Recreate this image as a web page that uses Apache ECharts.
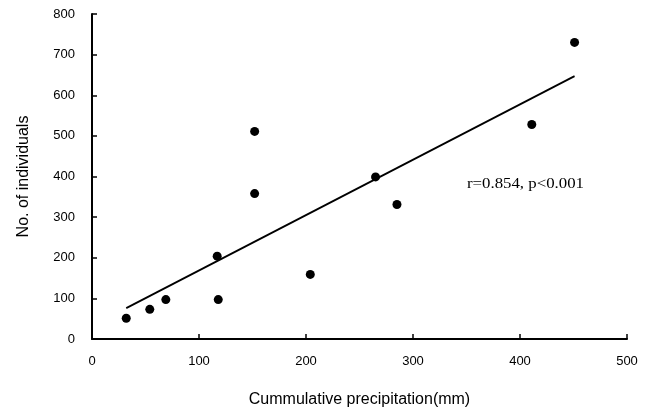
<!DOCTYPE html>
<html>
<head>
<meta charset="utf-8">
<script src="https://cdn.jsdelivr.net/npm/echarts@6/dist/echarts.min.js"></script>
<style>
  html, body { margin: 0; padding: 0; background: #fff; }
  #chart { width: 653px; height: 408px; }
</style>
</head>
<body>
<div id="chart"></div>
<script>
// observed points: cumulative precipitation (mm) vs. no. of individuals
const precip = [32, 54, 69, 118, 117, 152, 152, 204, 265, 285, 411, 451]
const individuals = [51, 73, 97, 97, 204, 511, 358, 159, 399, 331, 528, 730]
// fitted line end points
const fitX = [32, 451]
const fitY = [76, 647]
const xTicks = [0, 100, 200, 300, 400, 500]
const yTicks = [0, 100, 200, 300, 400, 500, 600, 700, 800]

const sans = 'Liberation Sans, Arial, sans-serif'
const labelFont = { fontFamily: sans, fontSize: 13, color: '#000' }
const nameFont = { fontFamily: sans, fontSize: 16, color: '#000' }

const option = {
  animation: false,
  backgroundColor: '#fff',
  grid: { left: 92, right: 26, top: 14, bottom: 69, outerBoundsMode: 'none' },
  xAxis: {
    type: 'value',
    min: xTicks[0],
    max: xTicks[xTicks.length - 1],
    interval: 100,
    name: 'Cummulative precipitation(mm)',
    nameLocation: 'middle',
    nameGap: 53,
    nameTextStyle: nameFont,
    axisLine: { lineStyle: { color: '#000', width: 2 } },
    axisTick: { inside: true, length: 5, lineStyle: { color: '#000', width: 1.5 } },
    axisLabel: Object.assign({ margin: 16 }, labelFont),
    splitLine: { show: false }
  },
  yAxis: {
    type: 'value',
    min: yTicks[0],
    max: yTicks[yTicks.length - 1],
    interval: 100,
    name: 'No. of individuals',
    nameLocation: 'middle',
    nameGap: 60,
    nameTextStyle: nameFont,
    axisLine: { lineStyle: { color: '#000', width: 2 } },
    axisTick: { inside: true, length: 5, lineStyle: { color: '#000', width: 1.5 } },
    axisLabel: Object.assign({ margin: 17 }, labelFont),
    splitLine: { show: false }
  },
  series: [
    {
      type: 'line',
      data: fitX.map((x, i) => [x, fitY[i]]),
      symbol: 'none',
      lineStyle: { color: '#000', width: 1.8 },
      z: 2
    },
    {
      type: 'scatter',
      data: precip.map((x, i) => [x, individuals[i]]),
      symbol: 'circle',
      symbolSize: 9,
      itemStyle: { color: '#000', opacity: 1 },
      z: 3
    }
  ],
  graphic: [
    {
      type: 'text',
      x: 467,
      y: 184,
      scaleX: 1.2,
      style: {
        text: 'r=0.854, p<0.001',
        fontFamily: 'Liberation Serif, Times New Roman, serif',
        fontSize: 14,
        verticalAlign: 'middle',
        fill: '#000'
      }
    }
  ]
}

const chart = echarts.init(document.getElementById('chart'))
chart.setOption(option)
window.addEventListener('resize', () => chart.resize())
</script>
</body>
</html>
